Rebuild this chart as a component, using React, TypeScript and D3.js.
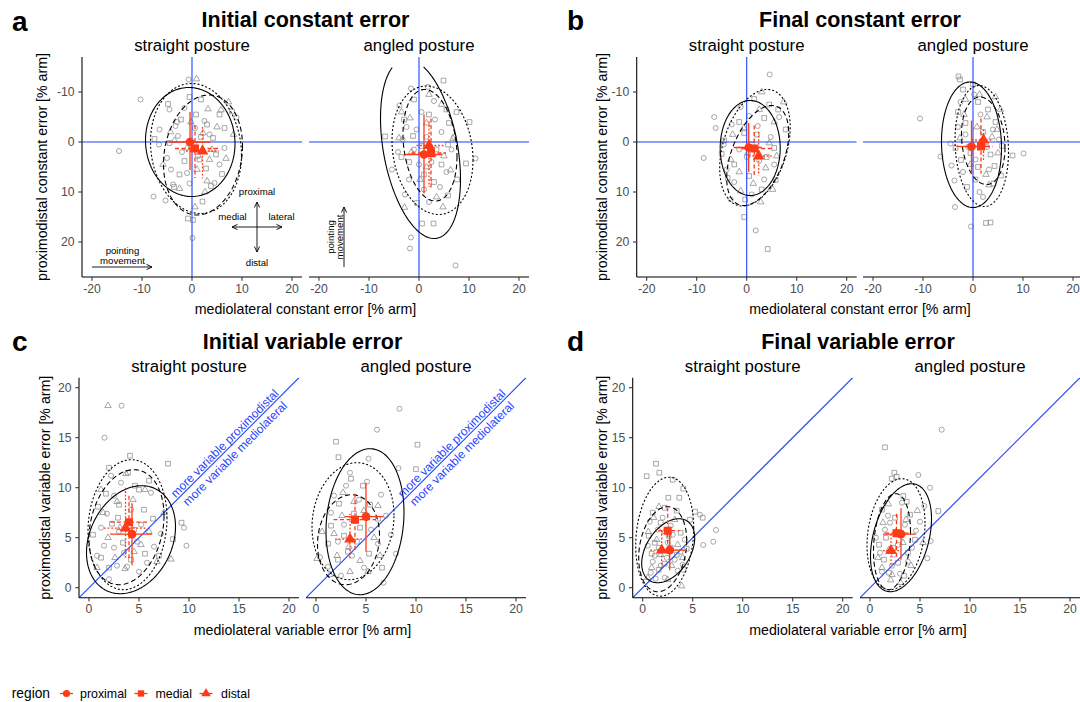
import React from 'react';
import * as d3 from 'd3';

const FONT = '"Liberation Sans", Arial, Helvetica, sans-serif';
const RED = '#ff3a17';
const BLUE = '#1f43ff';
const PT_GREY = '#8a8a8a';
const TICK_GREY = '#4d4d4d';
const SIZE = 220;

const regions = ['proximal', 'medial', 'distal'];
const ellDash = ['none', '5,3', '2,2'];
const redDash = ['none', '4,2.5', '1.8,1.8'];

const constTicksX = [-20, -10, 0, 10, 20];
const constTicksY = [-10, 0, 10, 20];
const varTicks = [0, 5, 10, 15, 20];

// raw per-subject points: [mediolateral, proximodistal, region] (0 proximal, 1 medial, 2 distal)
const iniConstStraight = [
  [-10.3,-8.5,0],[-14.6,1.8,0],[-0.7,-12.5,0],[-7.7,10.9,0],[-5.3,11.7,0],[0.1,19.2,0],[8.9,-4.9,0],[-4.5,-6.5,0],[-3,-4,0],[-6.5,-2.5,0],[-2,2,0],[-4.2,5.5,0],[-1.5,-6.8,0],[2.5,-4.2,0],[-6.6,0.5,0],[-2.8,-1.2,0],[1.2,2.8,0],[-5,3.2,0],[-3.8,8.5,0],[3.5,-1.5,0],[5.5,4.5,0],[-1,6.2,0],[-3.3,-3.2,0],[-0.5,8.3,0],[0.6,-2.8,0],[6.5,1.2,0],[4.5,8.2,0],
  [1.8,-8.5,1],[-4.8,-7.6,1],[8,-6.1,1],[2.1,11.9,1],[-0.8,15.3,1],[0.2,15.6,1],[3,-3.5,1],[5.5,-5.5,1],[-2.2,-4.5,1],[0.5,0.5,1],[1.5,3.5,1],[4.2,-0.8,1],[-4.5,0.2,1],[6.5,-2.8,1],[2.8,5.3,1],[-2.5,6.5,1],[4.8,2.5,1],[1.8,-1,1],[-7.5,-0.6,1],[-1.5,3.8,1],[3.8,8.8,1],[6,6.4,1],[-3.6,9,1],[0.8,-5.5,1],[-0.5,-9,1],
  [0.9,-12.6,2],[0.6,13,2],[3.2,-6.6,2],[7.3,-8,2],[5,-3,2],[2.2,-1.8,2],[-4.3,-2,2],[-1,1.2,2],[4,1.5,2],[6.8,3.3,2],[-5.8,4.5,2],[1,5.5,2],[3,7.8,2],[-2.5,9.3,2],[8.3,-1.5,2],[-3.5,-0.3,2],[5.8,-6.4,2],[3.5,3.5,2],[-0.2,-4,2],[2.6,10,2],
];
const iniConstAngled = [
  [-1.6,-10.7,0],[1.8,-11,0],[11.3,3.3,0],[-5.4,5.5,0],[-1.6,19.1,0],[-1.8,21.3,0],[7.3,24.7,0],[-3.9,-7.3,0],[-2.5,-3,0],[0.5,-6,0],[3,-8.2,0],[-4.2,2,0],[-1,1.5,0],[2.5,4,0],[4.5,-2,0],[-2,7.5,0],[1,9.5,0],[5.5,6,0],[-3.3,-0.5,0],[3.2,-4.5,0],[0,4.5,0],[6.5,1.5,0],[-0.5,-2.5,0],[2,12,0],[4.2,9,0],[-2.8,10.5,0],[7,-1,0],[1.5,-1,0],
  [4.9,-12.3,1],[10.1,-4,1],[-6.8,-1.1,1],[0.6,16.3,1],[2.9,16.3,1],[5.8,10.7,1],[7.6,7.5,1],[9.4,4.3,1],[-1,-8.5,1],[5.5,-6.5,1],[2,-5.5,1],[-3,-4.5,1],[-2,4,1],[3.5,1.5,1],[6,-3.8,1],[0.5,0.8,1],[-3.5,3,1],[4.5,4.5,1],[1,6.5,1],[-1.2,-1.2,1],[7.5,-6,1],[3,8,1],[-0.4,12.2,1],[5.8,0.5,1],
  [-2.9,13.1,2],[4.8,13,2],[2,-9.5,2],[-3.5,-6,2],[4.5,-7.5,2],[6.8,-0.7,2],[1.5,-3.8,2],[-1.5,2,2],[2.8,2.6,2],[-4,-0.8,2],[0.2,7.5,2],[5,2.8,2],[3.5,11,2],[-1.8,-4.8,2],[6.3,5.6,2],[1.5,5,2],
];
const finConstStraight = [
  [4.6,-13.5,0],[-6.5,-5,0],[-6.2,-2.8,0],[-8.6,3.2,0],[1.8,17.7,0],[-3,-3.5,0],[-1.5,1.5,0],[0.5,-5.2,0],[2.5,3.8,0],[-4,5.5,0],[4.8,-1,0],[-2.5,8,0],[3.5,7.5,0],[1,10.5,0],[-4.6,0.5,0],[5.5,4.5,0],[0,3,0],[2.2,-3.2,0],[-1.2,-7,0],[6.5,-5,0],[-3.2,11.5,0],
  [-0.5,15,1],[4.2,21.4,1],[7.8,-2.5,1],[4.5,-7.5,1],[-1.5,-4,1],[3.5,-4.8,1],[-4.5,-0.3,1],[1,0.5,1],[5.5,1.2,1],[-2.5,4.5,1],[0.5,6.8,1],[3,9.5,1],[-3.8,7.2,1],[6.3,-6.5,1],[2,-1.5,1],[-0.5,-1.8,1],[4,3,1],[5.8,7.6,1],[-5,2.4,1],[1.5,-8.6,1],[-0.3,11.5,1],
  [7.4,-8,2],[3,-10,2],[5.5,-4,2],[2.5,-6.5,2],[-2.8,-1.5,2],[0.2,2.2,2],[4.5,0.2,2],[-1.5,6,2],[3.8,5.2,2],[6,2.8,2],[1.3,8.3,2],[-3.2,3.5,2],[-0.6,-2.8,2],[5.2,9.5,2],[-1.2,9.8,2],[2.8,12,2],
];
const finConstAngled = [
  [-10.6,-4.7,0],[-6.5,2.9,0],[10.1,2.3,0],[-3.6,13,0],[-0.4,16.9,0],[-4.3,4.7,0],[-3.7,7.7,0],[1.3,10,0],[-2.5,-8,0],[-3,-3,0],[-1,1,0],[1.5,-5.5,0],[0.5,3.5,0],[-2,6,0],[2.8,1,0],[4,-2.5,0],[-1.5,-1.5,0],[0.2,-9.5,0],[3.2,5.5,0],[5.2,-0.5,0],[-4.5,0.3,0],[2,11,0],
  [-2.9,-13.1,1],[-2.6,-12.5,1],[7.9,2.7,1],[2.6,16.2,1],[3.5,16.1,1],[4.1,8.3,1],[5.6,6.7,1],[-2,-10.5,1],[0,-11.5,1],[1,-8,1],[-3,-6,1],[3,-6.5,1],[-1.5,-3.8,1],[4.5,-4,1],[2,-2,1],[-0.5,2.2,1],[3.5,2.5,1],[-3.5,1.2,1],[5.8,0.8,1],[1,5,1],[-2.4,3.6,1],[4.3,4.8,1],[0.5,7.5,1],[-1.2,9,1],
  [1.3,-9.5,2],[4.5,-9,2],[2.8,-5,2],[5.5,-6.5,2],[-1.8,-5.5,2],[0.8,-3,2],[3.8,-1,2],[-2.6,-0.8,2],[2,0.5,2],[5,2.2,2],[-0.5,4.5,2],[2.6,6.5,2],[4.8,-2.5,2],[-1.5,-8.5,2],[3.2,8.6,2],
];
const iniVarStraight = [
  [3.25,18.2,0],[1.55,15,0],[9.5,6,0],[9.75,4.2,0],[2,0.85,0],[2.5,9.2,0],[1.2,6,0],[3.5,3.5,0],[5.2,6.3,0],[2.8,2.2,0],[6.5,4.1,0],[4.2,7.8,0],[1.5,4.2,0],[3,5.6,0],[5.8,2.5,0],[2.2,11.2,0],[6.2,9.5,0],[0.8,3.2,0],[4.8,4.6,0],[3.8,2.1,0],[7.2,5.4,0],[1.8,7.4,0],[3.2,10.5,0],[5,1.6,0],[2.5,4,0],
  [4.1,13.2,1],[7.9,12.4,1],[9.25,6.5,1],[8.4,4.85,1],[0.4,5.3,1],[2,12,1],[3,8.3,1],[5,9.8,1],[1.2,3,1],[2.3,6.4,1],[4.5,5.8,1],[6.4,6.9,1],[3.4,4.5,1],[5.6,3.4,1],[2,2,1],[3.9,11.5,1],[5.5,7.8,1],[1.7,9.4,1],[4.2,2.8,1],[7,3.2,1],[6,10.7,1],[2.9,7,1],[0.9,8.1,1],[4.6,10.2,1],
  [1.9,18.2,2],[8.2,2.85,2],[3.7,11.4,2],[1.4,7.5,2],[2.6,3,2],[4.4,8.8,2],[5.6,9.8,2],[6.8,2.6,2],[3.1,6,2],[1.9,5,2],[5.2,4.3,2],[0.8,2,2],[7.5,7.5,2],[2.8,8.6,2],[4.5,3.6,2],[6,5.6,2],[3.6,1.9,2],[1.2,9.8,2],
];
const iniVarAngled = [
  [8.35,17.9,0],[6.1,15.8,0],[5.25,12.9,0],[8.25,11.95,0],[6.75,0.5,0],[0.4,3.05,0],[8,3.4,0],[3,10.2,0],[1.5,7.5,0],[4.3,8.8,0],[6.5,9.3,0],[2.2,4.6,0],[5.5,5.8,0],[3.6,3.2,0],[1.2,2.1,0],[7,7.2,0],[4.8,2,0],[2.8,6.3,0],[6.2,4.4,0],[3.4,11.5,0],[1.8,9.2,0],[5.1,10.6,0],[7.5,5.3,0],[2.5,1.2,0],
  [2,14.6,1],[10.15,14.3,1],[2.25,13.05,1],[10,11.85,1],[3.5,10.9,1],[4.7,10.2,1],[2.3,8.4,1],[1.5,6.2,1],[3.8,7.4,1],[5.4,8.3,1],[2.8,5.2,1],[4.4,6,1],[6.2,6.9,1],[1.2,4.4,1],[3.2,3.6,1],[5.3,3.4,1],[6.6,2,1],[2.2,2.8,1],[4.1,4.6,1],
  [0.6,5.6,2],[0.1,2.9,2],[3.8,8.6,2],[2.6,7.2,2],[4.8,7.7,2],[1.8,5.4,2],[3.3,4.1,2],[5.8,5,2],[2.1,3.2,2],[4.4,2.7,2],[3.4,1.6,2],[6.4,3.2,2],[1.4,1.3,2],[5.2,1.6,2],[6.2,8.2,2],[2.7,9.5,2],
];
const finVarStraight = [
  [5.73,7.3,0],[7.33,5.77,0],[7.06,4.6,0],[6.06,4.27,0],[0.8,1.5,0],[1.2,3.2,0],[1.8,2.2,0],[2.5,4.5,0],[3.2,2.8,0],[0.5,4.2,0],[1.5,5.8,0],[3.8,3.6,0],[2.2,1,0],[2.8,6.2,0],[1,2.6,0],[3.5,1.7,0],[4.2,4.8,0],[1.6,4,0],[2.4,3,0],[0.7,6.6,0],[3,5.3,0],[1.3,0.9,0],[4,2.3,0],[2,7,0],
  [1.33,12.4,1],[0.4,11.15,1],[1.66,11.5,1],[3,10.8,1],[4.06,9.9,1],[3.66,9,1],[2.56,9,1],[4.73,6.8,1],[5.23,7.6,1],[6,7,1],[1,7.5,1],[2.2,8,1],[3.4,7.7,1],[1.8,6.5,1],[0.6,5.2,1],[2.8,4,1],[3.8,5.5,1],[1.2,4.5,1],[2.2,2.4,1],[3.4,3.3,1],[0.9,3.4,1],[4.4,3.9,1],[1.6,1.8,1],[2.6,5.2,1],[4.1,1.8,1],
  [3.9,0.17,2],[0.56,5.6,2],[1.63,8.1,2],[1.1,7,2],[2.2,5.6,2],[0.9,2,2],[1.8,3.3,2],[2.9,2.2,2],[1.4,4.8,2],[3.5,4.3,2],[0.5,1,2],[2.5,0.8,2],[4,3,2],[3.2,6.8,2],
];
const finVarAngled = [
  [7.17,15.8,0],[4.83,11.27,0],[6,10,0],[5.43,8.17,0],[6.07,4.67,0],[5.73,2.94,0],[1,3.5,0],[1.5,5.8,0],[2.2,2.2,0],[2.8,4.3,0],[3.5,6.3,0],[4.2,4,0],[1.2,1.6,0],[1.8,7.2,0],[3,1.4,0],[4.6,5.7,0],[0.6,5,0],[2.4,3.3,0],[3.8,2.6,0],[2,6.5,0],[5,6.6,0],[3.2,8.5,0],
  [1.5,14.04,1],[2.43,11.5,1],[2.17,10.9,1],[2.67,11.1,1],[6.83,7.67,1],[3.33,9.17,1],[3.67,8.6,1],[1.2,7.8,1],[2.5,7,1],[4,7.3,1],[1.6,5,1],[3,5.5,1],[0.9,4.3,1],[2.3,4,1],[3.8,3.5,1],[1.4,2.8,1],[2.8,2.5,1],[4.5,4.8,1],[1.9,1.5,1],[3.4,1.2,1],
  [2.07,0.77,2],[3.07,0.5,2],[4.73,7.7,2],[1.83,8.37,2],[1.3,6.5,2],[2.6,5.6,2],[0.8,3,2],[1.9,3.8,2],[3.3,4.5,2],[1.2,2,2],[2.2,1.3,2],[4.1,2.2,2],[5.3,4.5,2],[3.6,6.8,2],
];

// confidence ellipses per region: [cx, cy, halfWidth, halfHeight, correlation]
const iniConstStraightEll = [[-0.35, 0, 8.95, 10.9, 0.03], [2.2, 2.6, 7.9, 12, -0.15], [0.8, 1.3, 9.1, 13, 0.1]];
const iniConstAngledEll = [[0.3, 1.35, 8.0, 17.95, 0.34], [2.2, 0.65, 5.4, 11.15, 0.2], [2.7, 1.65, 8.1, 12.85, 0.15]];
const finConstStraightEll = [[0.7, 1.2, 6, 9.5, 0], [2.2, 2.7, 6.2, 10, -0.45], [1.65, 1.15, 7.05, 11.65, -0.35]];
const finConstAngledEll = [[-0.3, 0.55, 6, 12.55, 0.05], [2.05, -0.25, 4.35, 8.75, 0.15], [1.75, 0.8, 5.35, 12.1, 0.1]];
const iniVarStraightEll = [[4.2, 4.8, 4.45, 5.4, 0.24], [3.75, 6.05, 3.75, 5.75, 0.2], [3.85, 6.3, 3.95, 6.5, 0.1]];
const iniVarAngledEll = [[4.9, 6.6, 3.9, 7.3, 0.13], [3.25, 4.8, 3.1, 4.5, 0.1], [3.7, 6.65, 4.1, 5.85, 0.1]];
const finVarStraightEll = [[2.55, 3.7, 2.65, 3.2, 0.4], [2.0, 3.85, 2.4, 4.25, 0.2], [2.2, 5.1, 2.9, 5.95, 0.15]];
const finVarAngledEll = [[3.1, 5.0, 3.05, 5.4, 0.35], [2.2, 4.6, 1.85, 4.8, 0.2], [2.6, 5.35, 2.9, 5.55, 0.2]];

// region means with error bars: [mx, my, xlo, xhi, ylo, yhi]
const iniConstStraightMean = [[-0.4, 0, -4.7, 3.7, -6, 5.6], [0.6, 1.3, -3.4, 5.3, -3.4, 7.2], [2.1, 1.8, -1.2, 5.4, -3, 7.3]];
const iniConstAngledMean = [[1.0, 2.5, -2.9, 4.6, -5.5, 10.3], [2.4, 2.2, -1.5, 5.4, -4.7, 9.3], [2.0, 0.7, -0.5, 5.2, -4.1, 9.0]];
const finConstStraightMean = [[0.4, 1.1, -2.6, 3.0, -3.8, 6.0], [1.5, 1.3, -1.0, 5.0, -3.3, 7.0], [2.4, 2.8, 0.4, 5.0, -2.0, 6.7]];
const finConstAngledMean = [[-0.3, 0.9, -3.3, 2.7, -4.3, 6.3], [1.6, 0.9, -1.3, 4.0, -4.7, 6.3], [2.1, -0.4, -0.3, 3.7, -2.5, 4.0]];
const iniVarStraightMean = [[4.3, 5.35, 2.1, 6.3, 2.25, 8.45], [4.0, 6.55, 2.15, 6.0, 2.95, 9.45], [3.65, 5.95, 1.5, 5.8, 3.0, 10.0]];
const iniVarAngledMean = [[5.0, 7.1, 2.9, 6.75, 3.6, 10.5], [3.9, 6.8, 1.75, 6.0, 3.8, 9.6], [3.4, 4.85, 1.9, 4.6, 2.95, 7.4]];
const finVarStraightMean = [[2.7, 3.75, 1.4, 4.2, 1.75, 6.1], [2.5, 5.7, 1.55, 3.7, 3.75, 7.95], [1.9, 3.75, 0.75, 3.4, 1.95, 5.75]];
const finVarAngledMean = [[3.1, 5.35, 1.3, 4.6, 2.8, 7.95], [2.65, 5.45, 1.5, 4.0, 3.1, 7.45], [2.1, 3.7, 1.3, 3.0, 2.3, 5.45]];

type Facet = {
  id: string; kind: 'const' | 'var'; left: number; top: number; strip: string;
  pts: number[][]; ell: number[][]; mean: number[][]; yAxis: boolean; note?: 'compass' | 'vertical' | 'diag';
};

const facets: Facet[] = [
  { id: 'a1', kind: 'const', left: 82, top: 57, strip: 'straight posture', pts: iniConstStraight, ell: iniConstStraightEll, mean: iniConstStraightMean, yAxis: true, note: 'compass' },
  { id: 'a2', kind: 'const', left: 309, top: 57, strip: 'angled posture', pts: iniConstAngled, ell: iniConstAngledEll, mean: iniConstAngledMean, yAxis: false, note: 'vertical' },
  { id: 'b1', kind: 'const', left: 636.7, top: 57, strip: 'straight posture', pts: finConstStraight, ell: finConstStraightEll, mean: finConstStraightMean, yAxis: true },
  { id: 'b2', kind: 'const', left: 863, top: 57, strip: 'angled posture', pts: finConstAngled, ell: finConstAngledEll, mean: finConstAngledMean, yAxis: false },
  { id: 'c1', kind: 'var', left: 79, top: 377.7, strip: 'straight posture', pts: iniVarStraight, ell: iniVarStraightEll, mean: iniVarStraightMean, yAxis: true, note: 'diag' },
  { id: 'c2', kind: 'var', left: 306, top: 377.7, strip: 'angled posture', pts: iniVarAngled, ell: iniVarAngledEll, mean: iniVarAngledMean, yAxis: false, note: 'diag' },
  { id: 'd1', kind: 'var', left: 632.7, top: 377.7, strip: 'straight posture', pts: finVarStraight, ell: finVarStraightEll, mean: finVarStraightMean, yAxis: true },
  { id: 'd2', kind: 'var', left: 860, top: 377.7, strip: 'angled posture', pts: finVarAngled, ell: finVarAngledEll, mean: finVarAngledMean, yAxis: false },
];

const panels = [
  { letter: 'a', lx: 12, ly: 31, title: 'Initial constant error', cx: 305.5, ty: 27, xTitle: 'mediolateral constant error [% arm]', xty: 314, yTitle: 'proximodistal constant error [% arm]', ytx: 47, yty: 167 },
  { letter: 'b', lx: 567, ly: 30, title: 'Final constant error', cx: 860, ty: 27, xTitle: 'mediolateral constant error [% arm]', xty: 314, yTitle: 'proximodistal constant error [% arm]', ytx: 607, yty: 167 },
  { letter: 'c', lx: 12, ly: 351, title: 'Initial variable error', cx: 302.5, ty: 348.5, xTitle: 'mediolateral variable error [% arm]', xty: 634.5, yTitle: 'proximodistal variable error [% arm]', ytx: 50, yty: 487.7 },
  { letter: 'd', lx: 567, ly: 351, title: 'Final variable error', cx: 858, ty: 348.5, xTitle: 'mediolateral variable error [% arm]', xty: 634.5, yTitle: 'proximodistal variable error [% arm]', ytx: 607, yty: 487.7 },
];

const symTypes = [d3.symbolCircle, d3.symbolSquare, d3.symbolTriangle];
const greySym = symTypes.map((s, i) => d3.symbol(s, [20, 22, 18][i])() as string);
const redSym = symTypes.map((s, i) => d3.symbol(s, [60, 64, 60][i])() as string);

function ellipsePts(e: number[], n = 160): [number, number][] {
  const [cx, cy, w, h, rho] = e;
  const phi = Math.acos(rho);
  return d3.range(n + 1).map(i => {
    const t = (i / n) * 2 * Math.PI;
    return [cx + w * Math.cos(t), cy + h * Math.cos(t - phi)] as [number, number];
  });
}

const Arrow = ({ x1, y1, x2, y2, both }: { x1: number; y1: number; x2: number; y2: number; both?: boolean }) => (
  <line x1={x1} y1={y1} x2={x2} y2={y2} stroke="#000" strokeWidth={0.9}
    markerEnd="url(#arrowhead)" markerStart={both ? 'url(#arrowhead)' : undefined} />
);

function FacetView({ f }: { f: Facet }) {
  const isConst = f.kind === 'const';
  const x = d3.scaleLinear(isConst ? [-22, 22] : [-1, 21], [f.left, f.left + SIZE]);
  const y = isConst
    ? d3.scaleLinear([-17, 27], [f.top, f.top + SIZE])
    : d3.scaleLinear([-1, 21], [f.top + SIZE, f.top]);
  const lim = isConst ? { x: [-20, 20], y: [-15, 25] } : { x: [-5, 25], y: [-5, 25] };
  const line = d3.line<[number, number]>()
    .defined(p => p[0] >= lim.x[0] && p[0] <= lim.x[1] && p[1] >= lim.y[0] && p[1] <= lim.y[1])
    .x(p => x(p[0])).y(p => y(p[1]));
  const bottom = f.top + SIZE;
  const xt = isConst ? constTicksX : varTicks;
  const yt = isConst ? constTicksY : varTicks;
  const clipId = `clip-${f.id}`;
  const txt = { fontFamily: FONT, fontSize: 9.6, fill: '#000' } as const;

  return (
    <g>
      <defs>
        <clipPath id={clipId}><rect x={f.left} y={f.top} width={SIZE} height={SIZE} /></clipPath>
      </defs>
      <text x={f.left + SIZE / 2} y={isConst ? 50.5 : 371.5} textAnchor="middle" fontFamily={FONT} fontSize={16.8}>{f.strip}</text>
      <g clipPath={`url(#${clipId})`}>
        {f.pts.map((p, i) => (
          <path key={i} d={greySym[p[2]]} transform={`translate(${x(p[0])},${y(p[1])})`}
            fill="none" stroke={PT_GREY} strokeWidth={0.75} />
        ))}
        {isConst ? (
          <g stroke={BLUE} strokeWidth={1.1}>
            <line x1={x(0)} x2={x(0)} y1={f.top} y2={bottom} />
            <line x1={f.left} x2={f.left + SIZE} y1={y(0)} y2={y(0)} />
          </g>
        ) : (
          <line x1={x(-1)} y1={y(-1)} x2={x(21)} y2={y(21)} stroke={BLUE} strokeWidth={1.1} />
        )}
        {f.ell.map((e, i) => (
          <path key={i} d={line(ellipsePts(e)) ?? ''} fill="none" stroke="#000" strokeWidth={1.1}
            strokeDasharray={ellDash[i]} />
        ))}
        {f.mean.map((m, i) => (
          <g key={i} stroke={RED} strokeWidth={1.3} strokeDasharray={redDash[i]}>
            <line x1={x(m[2])} x2={x(m[3])} y1={y(m[1])} y2={y(m[1])} />
            <line x1={x(m[0])} x2={x(m[0])} y1={y(m[4])} y2={y(m[5])} />
          </g>
        ))}
        {f.mean.map((m, i) => (
          <path key={i} d={redSym[i]} transform={`translate(${x(m[0])},${y(m[1])})`} fill={RED} />
        ))}
      </g>

      {f.note === 'diag' && (
        <g transform={`translate(${x(14)},${y(14)}) rotate(-45)`} fill={BLUE} fontFamily={FONT} fontSize={12} textAnchor="middle">
          <text y={-2}>more variable proximodistal</text>
          <text y={12.5}>more variable mediolateral</text>
        </g>
      )}
      {f.note === 'compass' && (
        <g>
          <Arrow x1={x(8)} y1={y(17)} x2={x(18)} y2={y(17)} both />
          <Arrow x1={x(13)} y1={y(12)} x2={x(13)} y2={y(22)} both />
          <text x={x(13)} y={y(10.6)} textAnchor="middle" {...txt}>proximal</text>
          <text x={x(13)} y={y(24.8)} textAnchor="middle" {...txt}>distal</text>
          <text x={x(8.1)} y={y(15.6)} textAnchor="middle" {...txt}>medial</text>
          <text x={x(17.9)} y={y(15.6)} textAnchor="middle" {...txt}>lateral</text>
          <Arrow x1={x(-20)} y1={y(25)} x2={x(-8)} y2={y(25)} />
          <text x={x(-13.9)} y={y(22.3)} textAnchor="middle" {...txt}>pointing</text>
          <text x={x(-13.9)} y={y(24.4)} textAnchor="middle" {...txt}>movement</text>
        </g>
      )}
      {f.note === 'vertical' && (
        <g>
          <Arrow x1={x(-15)} y1={y(25)} x2={x(-15)} y2={y(13)} />
          <text transform={`translate(${x(-17.1)},${y(19)}) rotate(-90)`} textAnchor="middle" {...txt}>pointing</text>
          <text transform={`translate(${x(-15.3)},${y(19)}) rotate(-90)`} textAnchor="middle" {...txt}>movement</text>
        </g>
      )}

      <line x1={f.left} x2={f.left + SIZE} y1={bottom} y2={bottom} stroke="#000" strokeWidth={1.07} />
      {xt.map(t => (
        <g key={t}>
          <line x1={x(t)} x2={x(t)} y1={bottom} y2={bottom + 3.7} stroke="#333" strokeWidth={1.07} />
          <text x={x(t)} y={bottom + 15.5} textAnchor="middle" fontFamily={FONT} fontSize={12.2} fill={TICK_GREY}>{t}</text>
        </g>
      ))}
      {f.yAxis && (
        <g>
          <line x1={f.left} x2={f.left} y1={f.top} y2={bottom} stroke="#000" strokeWidth={1.07} />
          {yt.map(t => (
            <g key={t}>
              <line x1={f.left - 3.7} x2={f.left} y1={y(t)} y2={y(t)} stroke="#333" strokeWidth={1.07} />
              <text x={f.left - 7.5} y={y(t)} dy="0.36em" textAnchor="end" fontFamily={FONT} fontSize={12.2} fill={TICK_GREY}>{t}</text>
            </g>
          ))}
        </g>
      )}
    </g>
  );
}

export default function App() {
  const legendKeys = [
    { cx: 66.5, tx: 80 },
    { cx: 141, tx: 155.5 },
    { cx: 206, tx: 221 },
  ];
  return (
    <svg width={1080} height={702} style={{ position: 'absolute', left: 0, top: 0, background: '#fff' }}
      fontFamily={FONT}>
      <defs>
        <marker id="arrowhead" viewBox="-7 -4 8 8" refX={0} refY={0} markerWidth={8} markerHeight={8}
          markerUnits="userSpaceOnUse" orient="auto-start-reverse">
          <path d="M-5.5,-2.6 L0,0 L-5.5,2.6" fill="none" stroke="#000" strokeWidth={0.9} />
        </marker>
      </defs>
      <rect width={1080} height={702} fill="#fff" />
      {panels.map(p => (
        <g key={p.letter}>
          <text x={p.lx} y={p.ly} fontSize={28} fontWeight="bold">{p.letter}</text>
          <text x={p.cx} y={p.ty} fontSize={21.5} fontWeight="bold" textAnchor="middle">{p.title}</text>
          <text x={p.cx} y={p.xty} fontSize={14.2} textAnchor="middle">{p.xTitle}</text>
          <text transform={`translate(${p.ytx},${p.yty}) rotate(-90)`} fontSize={14.2} textAnchor="middle">{p.yTitle}</text>
        </g>
      ))}
      {facets.map(f => <FacetView key={f.id} f={f} />)}

      <text x={11.7} y={698} fontSize={13.8}>region</text>
      {regions.map((r, i) => (
        <g key={r}>
          <line x1={legendKeys[i].cx - 6.5} x2={legendKeys[i].cx + 6.5} y1={693.5} y2={693.5} stroke={RED} strokeWidth={1.3} />
          <path d={d3.symbol(symTypes[i], 40)() as string} transform={`translate(${legendKeys[i].cx},693.5)`} fill={RED} />
          <text x={legendKeys[i].tx} y={698} fontSize={12.4}>{r}</text>
        </g>
      ))}
    </svg>
  );
}
